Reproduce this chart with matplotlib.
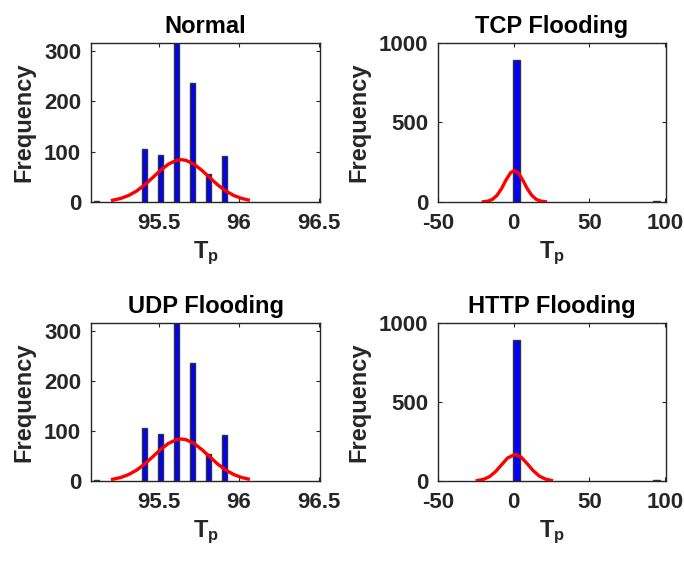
import numpy as np
import matplotlib
matplotlib.use('Agg')
import matplotlib.pyplot as plt

plt.rcParams['font.family'] = ['Liberation Sans', 'DejaVu Sans']
plt.rcParams['font.weight'] = 'bold'
plt.rcParams['mathtext.fontset'] = 'custom'
plt.rcParams['mathtext.bf'] = 'Liberation Sans:bold'
plt.rcParams['mathtext.rm'] = 'Liberation Sans:bold'

# histogram bars (centres and counts)
normal_x = [95.11, 95.41, 95.51, 95.61, 95.71, 95.81, 95.91]
normal_counts = [2, 106, 94, 316, 236, 55, 92]
udp_x = [95.11, 95.41, 95.51, 95.61, 95.71, 95.81, 95.91]
udp_counts = [2, 106, 94, 316, 236, 55, 92]
tcp_x = [2.2, 94.7]
tcp_counts = [893, 8]
http_x = [2.2, 94.7]
http_counts = [892, 8]

# fitted curve points
normal_fit_x = [95.21, 95.26, 95.31, 95.36, 95.41, 95.46, 95.51, 95.56, 95.61, 95.64,
                95.67, 95.72, 95.77, 95.82, 95.87, 95.92, 95.97, 96.02, 96.06]
normal_fit_y = [3.4, 6.9, 12.8, 21.6, 33.6, 48.0, 62.7, 75.2, 82.7, 84.0,
                82.7, 75.2, 62.7, 48.0, 33.6, 21.6, 12.8, 6.9, 4.0]
udp_fit_x = normal_fit_x
udp_fit_y = normal_fit_y
tcp_fit_x = [-20, -17, -14, -11, -8, -5, -2, 0.5, 3, 6, 9, 12, 15, 18, 21]
tcp_fit_y = [1.4, 5.3, 16.4, 41.4, 84.2, 138.4, 183.9, 198, 183.9, 138.4, 84.2, 41.4, 16.4, 5.3, 1.4]
http_fit_x = [-24, -20, -16, -12, -8, -4, 1, 5, 9, 13, 17, 21, 25]
http_fit_y = [3.2, 10.4, 27.4, 58.8, 102.5, 145.7, 169, 150.8, 109.5, 64.7, 31.2, 12.2, 3.9]

titles = ['Normal', 'TCP Flooding', 'UDP Flooding', 'HTTP Flooding']
tp_ticks = [95.5, 96, 96.5]
tp_labels = ['95.5', '96', '96.5']
flood_ticks = [-50, 0, 50, 100]
flood_labels = ['-50', '0', '50', '100']

fig = plt.figure(figsize=(6.84, 5.61), dpi=100)
dark = '#262626'

positions = [[0.133, 0.640, 0.335, 0.2834],
             [0.6404, 0.640, 0.3333, 0.2834],
             [0.133, 0.1426, 0.335, 0.2816],
             [0.6404, 0.1426, 0.3333, 0.2816]]

panels = [
    (normal_x, normal_counts, 0.035, normal_fit_x, normal_fit_y, 'n'),
    (tcp_x, tcp_counts, 4.6, tcp_fit_x, tcp_fit_y, 'f'),
    (udp_x, udp_counts, 0.035, udp_fit_x, udp_fit_y, 'n'),
    (http_x, http_counts, 4.6, http_fit_x, http_fit_y, 'f'),
]

for i, (bx, bc, bw, fx, fy, kind) in enumerate(panels):
    ax = fig.add_axes(positions[i])
    ax.bar(bx, bc, width=bw, color='#0000ff', edgecolor='#333333', linewidth=1.0, zorder=2)
    ax.plot(fx, fy, color='#ff0000', linewidth=2.4, zorder=3)
    if kind == 'n':
        ax.set_xlim(95.075, 96.51)
        ax.set_ylim(0, max(bc))
        ax.set_xticks(tp_ticks)
        ax.set_xticklabels(tp_labels)
        ax.set_yticks([0, 100, 200, 300])
    else:
        ax.set_xlim(-50, 100.8)
        ax.set_ylim(0, 1000)
        ax.set_xticks(flood_ticks)
        ax.set_xticklabels(flood_labels)
        ax.set_yticks([0, 500, 1000])
    ax.tick_params(direction='in', length=3, width=0.8, color=dark, labelcolor=dark,
                   labelsize=16, top=True, right=True)
    ax.tick_params(axis='x', pad=8)
    ax.tick_params(axis='y', pad=7)
    for lab in ax.get_xticklabels() + ax.get_yticklabels():
        lab.set_fontweight('bold')
    for s in ax.spines.values():
        s.set_color(dark)
        s.set_linewidth(1.0)
    ax.set_title(titles[i], fontsize=17, fontweight='bold', color='black', pad=7)
    ax.set_ylabel('Frequency', fontsize=17, fontweight='bold', color=dark, labelpad=6)
    ax.set_xlabel(r'$\mathbf{T_p}$', fontsize=17, color=dark, labelpad=4)

fig.savefig('out.png', dpi=100)
